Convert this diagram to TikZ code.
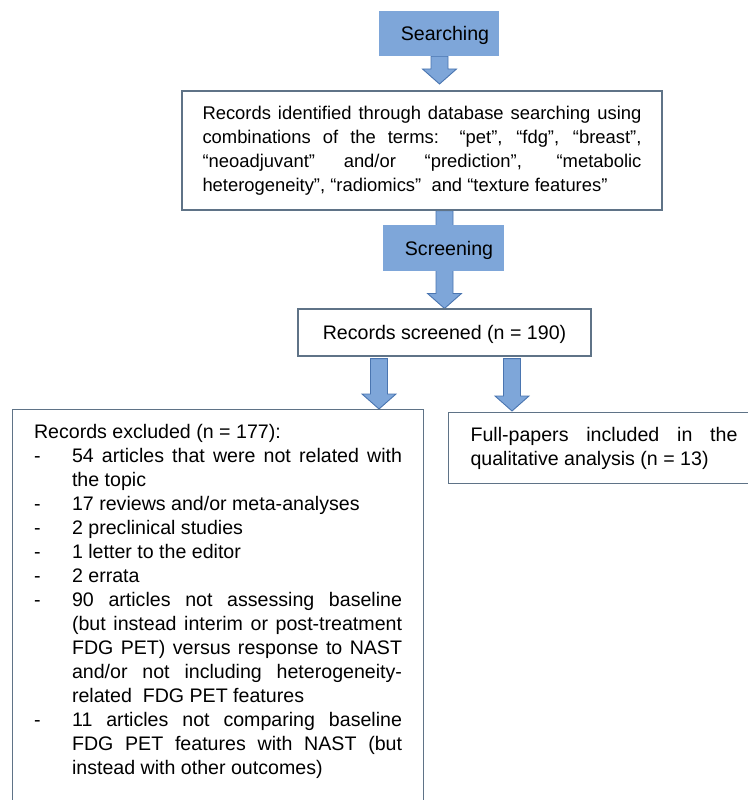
\documentclass[tikz,border=0pt]{standalone}
\usepackage{fontspec}
\setmainfont{Liberation Sans}
\usetikzlibrary{calc}
\definecolor{fillblue}{RGB}{126,166,217}
\definecolor{edgeblue}{RGB}{74,117,176}
\definecolor{boxline}{RGB}{95,115,135}
\pgfdeclarelayer{bg}
\pgfsetlayers{bg,main}
\tolerance=10000 \hbadness=10000 \hyphenpenalty=10000 \exhyphenpenalty=10000
\newcommand\blockarr[2]{%
  \path[barrow] let \p1=(#1), \p2=(#2) in
    (\x2-8.5pt,\y1) -- (\x2+8.5pt,\y1) -- (\x2+8.5pt,\y2+15pt) --
    (\x2+17pt,\y2+15pt) -- (\x2,\y2) -- (\x2-17pt,\y2+15pt) --
    (\x2-8.5pt,\y2+15pt) -- cycle;}
\newcommand\exitem[1]{\par\noindent\hangindent=38pt\hangafter=1\makebox[38pt][l]{-}#1}
\tikzset{
  txt/.style={font=\fontsize{19.6}{24}\selectfont},
  smalltxt/.style={font=\fontsize{18.4}{24}\selectfont},
  stage/.style={txt, fill=fillblue, draw=none, inner sep=0pt, text height=14pt, text depth=0pt},
  box/.style={txt, draw=boxline, line width=1.1pt, fill=white},
  barrow/.style={fill=fillblue, draw=edgeblue, line width=0.9pt, line join=miter}
}
\begin{document}
\begin{tikzpicture}[x=1pt,y=-1pt]
\useasboundingbox (0,0) rectangle (747,800);
\node[stage, minimum width=120pt, minimum height=45pt] (search) at (439,33.5) {\hspace*{12pt}Searching};
\node[box, smalltxt, text width=439pt, inner xsep=20.5pt, inner ysep=0pt, minimum height=119pt, align=justify] (ident) at (422,150.5)
 {Records identified through database searching using\linebreak
  combinations of the terms: “pet”, “fdg”, “breast”,\linebreak
  “neoadjuvant” and/or “prediction”, “metabolic\linebreak
  heterogeneity”, “radiomics”\ \ and “texture features”};
\node[stage, minimum width=121pt, minimum height=46pt] (screen) at (443.5,248) {\hspace*{11pt}Screening};
\node[box, minimum width=293pt, minimum height=47pt, inner sep=0pt, text height=14pt, text depth=0pt] (screened) at (444.5,332.5) {Records screened (n = 190)};
\node[box, anchor=north west, text width=368pt, inner xsep=21.5pt, inner ysep=15pt, align=justify] (ex) at (12,409)
 {\noindent Records excluded (n = 177):
  \exitem{54 articles that were not related with\linebreak the topic}
  \exitem{17 reviews and/or meta-analyses}
  \exitem{2 preclinical studies}
  \exitem{1 letter to the editor}
  \exitem{2 errata}
  \exitem{90 articles not assessing baseline\linebreak (but instead interim or post-treatment\linebreak FDG PET) versus response to NAST\linebreak and/or not including heterogeneity-\linebreak related\ \ FDG PET features}
  \exitem{11 articles not comparing baseline\linebreak FDG PET features with NAST (but\linebreak instead with other outcomes)}
  \par\noindent\rule{0pt}{70pt}};
\node[box, anchor=north west, text width=267pt, inner xsep=22pt, inner ysep=0pt, minimum height=71pt, align=justify] (full) at (448,412)
 {Full-papers included in the\linebreak qualitative analysis (n = 13)};
\coordinate (t1) at (439.5,84);
\coordinate (t3) at (379,409);
\coordinate (t4) at (512,411);
\begin{pgfonlayer}{bg}
\blockarr{search.south}{t1}
\blockarr{ident.south}{screened.north}
\blockarr{[yshift=-2pt]screened.south}{t3}
\blockarr{[yshift=-2pt]screened.south}{t4}
\end{pgfonlayer}
\end{tikzpicture}
\end{document}
